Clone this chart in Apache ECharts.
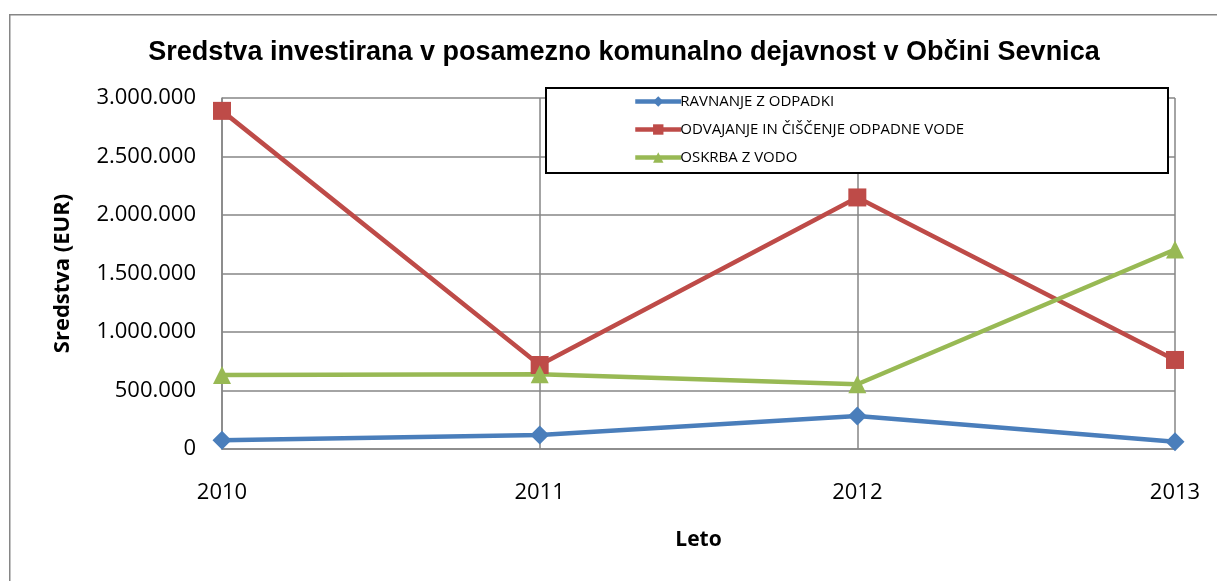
<!DOCTYPE html>
<html>
<head>
<meta charset="utf-8">
<script src="https://cdn.jsdelivr.net/npm/echarts@6/dist/echarts.min.js"></script>
<style>
  html, body { margin: 0; padding: 0; background: #fff; }
  #main { width: 1217px; height: 581px; }
</style>
</head>
<body>
<div id="main"></div>
<script>
var years = ['2010', '2011', '2012', '2013'];
var ravnanje = [74000, 120000, 282000, 62000];
var odvajanje = [2890000, 718000, 2150000, 761000];
var oskrba = [632000, 638000, 553000, 1705000];

var myChart = echarts.init(document.getElementById('main'));

function fmt(v) {
    return String(v).replace(/\B(?=(\d{3})+(?!\d))/g, '.');
}

var lbl = { fontFamily: 'Open Sans', fontSize: 22, color: '#000' };

var option = {
    animation: false,
    title: {
        text: 'Sredstva investirana v posamezno komunalno dejavnost v Občini Sevnica',
        left: 619,
        textAlign: 'center',
        top: 34,
        textStyle: { fontFamily: 'Liberation Sans', fontWeight: 'bold', fontSize: 27, color: '#000' }
    },
    graphic: [
        {
            type: 'rect', left: 9, top: 14, z: -10,
            shape: { width: 1400, height: 800 },
            style: { fill: '#fff', stroke: '#868686', lineWidth: 1.5 }
        },
        {
            type: 'rect', left: 545, top: 87, z: 10,
            shape: { width: 622, height: 85 },
            style: { fill: '#fff', stroke: '#000', lineWidth: 2 }
        }
    ],
    legend: {
        z: 20,
        orient: 'vertical',
        left: 628,
        top: 89,
        itemWidth: 46,
        itemHeight: 13,
        itemGap: 13,
        lineStyle: { width: 4.5 },
        textStyle: { fontFamily: 'Open Sans', fontSize: 15, color: '#000', padding: [0, 0, 0, -6] },
        data: ['RAVNANJE Z ODPADKI', 'ODVAJANJE IN ČIŠČENJE ODPADNE VODE', 'OSKRBA Z VODO']
    },
    grid: { left: 222, right: 42, top: 98, bottom: 132 },
    xAxis: {
        type: 'category',
        data: years,
        boundaryGap: false,
        name: 'Leto',
        nameLocation: 'middle',
        nameGap: 81,
        nameTextStyle: { fontFamily: 'Open Sans', fontWeight: 'bold', fontSize: 21, color: '#000' },
        axisLine: { lineStyle: { color: '#868686', width: 1.5 } },
        axisTick: { show: false },
        axisLabel: Object.assign({ margin: 33 }, lbl),
        splitLine: { show: true, lineStyle: { color: '#868686', width: 1.5 } }
    },
    yAxis: {
        type: 'value',
        min: 0,
        max: 3000000,
        interval: 500000,
        name: 'Sredstva (EUR)',
        nameLocation: 'middle',
        nameGap: 148,
        nameTextStyle: { fontFamily: 'Open Sans', fontWeight: 'bold', fontSize: 22, color: '#000' },
        axisLine: { show: true, lineStyle: { color: '#868686', width: 1.5 } },
        axisTick: { show: false },
        axisLabel: Object.assign({ margin: 26, formatter: fmt }, lbl),
        splitLine: { show: true, lineStyle: { color: '#868686', width: 1.5 } }
    },
    series: [
        {
            name: 'RAVNANJE Z ODPADKI',
            type: 'line',
            data: ravnanje,
            symbol: 'diamond',
            symbolSize: 19,
            lineStyle: { width: 4.5, color: '#4A7EBB' },
            itemStyle: { color: '#4A7EBB' }
        },
        {
            name: 'ODVAJANJE IN ČIŠČENJE ODPADNE VODE',
            type: 'line',
            data: odvajanje,
            symbol: 'rect',
            symbolSize: 18,
            lineStyle: { width: 4.5, color: '#BE4B48' },
            itemStyle: { color: '#BE4B48' }
        },
        {
            name: 'OSKRBA Z VODO',
            type: 'line',
            data: oskrba,
            symbol: 'triangle',
            symbolSize: 18,
            lineStyle: { width: 4.5, color: '#98B954' },
            itemStyle: { color: '#98B954' }
        }
    ]
};

myChart.setOption(option);
</script>
</body>
</html>
